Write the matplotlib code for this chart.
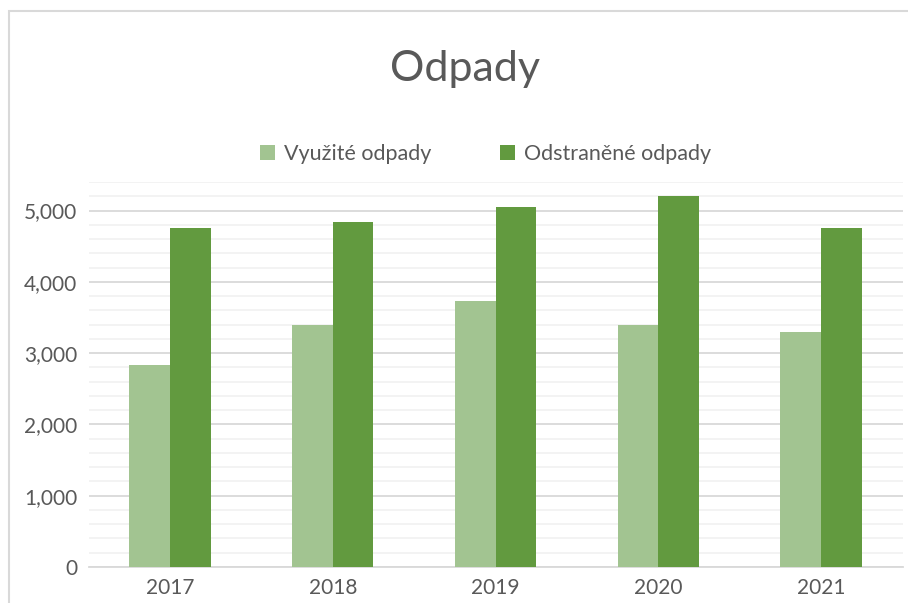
import matplotlib.pyplot as plt
import numpy as np
from matplotlib.patches import Rectangle
from matplotlib.ticker import FuncFormatter, MultipleLocator

years = ["2017", "2018", "2019", "2020", "2021"]
vyuzite = [2840, 3390, 3725, 3390, 3290]
odstranene = [4750, 4845, 5045, 5210, 4760]
series_names = ["Využité odpady", "Odstraněné odpady"]

light = "#A2C491"
dark = "#629A3F"
text_col = "#595959"

plt.rcParams['font.family'] = ['Lato', 'DejaVu Sans']

fig = plt.figure(figsize=(9.08, 6.03), dpi=100)
ax = fig.add_axes([0.0975, 0.0597, 0.8965, 0.6385])

x = np.arange(len(years))
w = 0.25
ax.bar(x - w / 2, vyuzite, w, color=light, label=series_names[0], zorder=3)
ax.bar(x + w / 2, odstranene, w, color=dark, label=series_names[1], zorder=3)

ax.set_xlim(-0.5, len(years) - 0.5)
ax.set_ylim(0, 5400)
ax.yaxis.set_major_locator(MultipleLocator(1000))
ax.yaxis.set_minor_locator(MultipleLocator(200))
ax.yaxis.set_major_formatter(FuncFormatter(lambda v, p: f"{int(v):,}"))
ax.grid(axis="y", which="minor", color="#F2F2F2", linewidth=1.3, zorder=0)
ax.grid(axis="y", which="major", color="#D9D9D9", linewidth=1.3, zorder=1)
ax.set_xticks(x)
ax.set_xticklabels(years)
ax.tick_params(axis="both", which="both", length=0, labelsize=15, colors=text_col)
ax.tick_params(axis="y", pad=8)
ax.tick_params(axis="x", pad=8)
for s in ["top", "right", "left"]:
    ax.spines[s].set_visible(False)
ax.spines["bottom"].set_color("#D9D9D9")
ax.spines["bottom"].set_linewidth(1.3)

fig.text(0.512, 0.885, "Odpady", ha="center", va="center", fontsize=31, color=text_col)
fig.legend(loc="center", bbox_to_anchor=(0.535, 0.745), ncol=2, frameon=False,
           fontsize=15.5, labelcolor=text_col, handlelength=0.7, handleheight=0.7,
           handletextpad=0.4, columnspacing=3.2)

fig.add_artist(Rectangle((9 / 908, -0.1), 1.2, 1.1 - 11 / 603, transform=fig.transFigure,
                         fill=False, edgecolor="#D9D9D9", linewidth=1.5))

fig.savefig("out.png", dpi=100)
